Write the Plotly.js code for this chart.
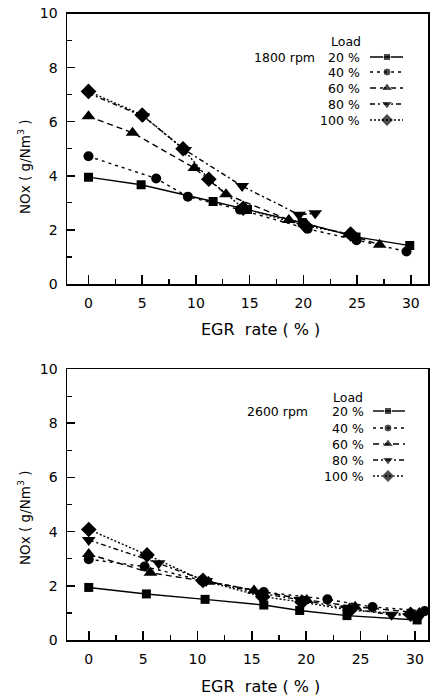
<!DOCTYPE html>
<html><head><meta charset="utf-8">
<script src="https://cdn.plot.ly/plotly-3.0.1.min.js"></script>
<style>html,body{margin:0;padding:0;background:#fff}#c{width:434px;height:698px}</style>
</head><body><div id="c"></div>
<script>
// ---- Data: 1800 rpm (top) ----
const loads = ["20 %", "40 %", "60 %", "80 %", "100 %"];
const top20x = [0, 4.9, 11.6, 14.8, 19.9, 24.9, 29.9];
const top20y = [3.95, 3.67, 3.05, 2.75, 2.27, 1.74, 1.42];
const top40x = [0, 6.3, 9.25, 14.1, 20.4, 24.95, 29.6];
const top40y = [4.72, 3.9, 3.23, 2.75, 2.04, 1.62, 1.2];
const top60x = [0, 4.1, 9.85, 12.8, 18.65, 24.2, 27.1];
const top60y = [6.2, 5.59, 4.29, 3.32, 2.37, 1.83, 1.45];
const top80x = [0, 5.1, 9.0, 14.3, 19.6, 21.1];
const top80y = [7.05, 6.2, 4.95, 3.62, 2.56, 2.62];
const top100x = [0, 5.0, 8.8, 11.2, 14.4, 20.2, 24.4];
const top100y = [7.12, 6.25, 5.0, 3.87, 2.8, 2.15, 1.85];
// ---- Data: 2600 rpm (bottom) ----
const bot20x = [0, 5.3, 10.7, 16.1, 19.4, 23.75, 30.2];
const bot20y = [1.94, 1.7, 1.5, 1.29, 1.09, 0.9, 0.74];
const bot40x = [0, 5.14, 10.4, 16.1, 21.95, 26.1, 30.9];
const bot40y = [2.98, 2.71, 2.2, 1.77, 1.5, 1.22, 1.07];
const bot60x = [0, 5.67, 11.0, 15.2, 20.05, 24.5, 30.4];
const bot60y = [3.17, 2.48, 2.15, 1.83, 1.48, 1.23, 1.0];
const bot80x = [0, 6.43, 10.8, 15.6, 19.45, 23.75, 27.85, 30.5];
const bot80y = [3.69, 2.83, 2.18, 1.74, 1.48, 1.17, 0.93, 0.9];
const bot100x = [0, 5.36, 10.5, 16.0, 19.6, 24.0, 29.6];
const bot100y = [4.08, 3.14, 2.2, 1.6, 1.4, 1.1, 0.95];

const symbols = ["square", "circle", "triangle-up", "triangle-down", "diamond"];
const msizes = [9, 10, 12, 12, 12];
const dashes = ["solid", "3px,4px", "6px,4px", "5px,3px,2px,3px", "2px,2px"];

const topX = [top20x, top40x, top60x, top80x, top100x];
const topY = [top20y, top40y, top60y, top80y, top100y];
const botX = [bot20x, bot40x, bot60x, bot80x, bot100x];
const botY = [bot20y, bot40y, bot60y, bot80y, bot100y];

const traces = [];
function addSeries(X, Y, xa, ya) {
  for (let i = 0; i < 5; i++) {
    traces.push({x: X[i], y: Y[i], xaxis: xa, yaxis: ya, type: "scatter", mode: "lines+markers",
      name: loads[i], showlegend: false,
      line: {color: "#000", width: 1.4, dash: dashes[i]},
      marker: {symbol: symbols[i], size: msizes[i], color: "#000"}});
  }
}
addSeries(topX, topY, "x", "y");
addSeries(botX, botY, "x2", "y2");

// custom legends (text left of sample) on a pixel overlay axis
const legTop = {rowY: [57, 72, 88, 104, 120], textR: 362, l0: 370, l1: 403, m: 387, loadY: 41, loadX: 346, rpm: "1800 rpm", rpmR: 317};
const legBot = {rowY: [411, 428, 444, 460, 476], textR: 366, l0: 373, l1: 405, m: 388, loadY: 397, loadX: 348, rpm: "2600 rpm", rpmR: 310};
const annotations = [];
const lf = 12.5;
function addLegend(L) {
  for (let i = 0; i < 5; i++) {
    traces.push({x: [L.l0, L.m, L.l1], y: [L.rowY[i], L.rowY[i], L.rowY[i]], xaxis: "x3", yaxis: "y3",
      type: "scatter", mode: "lines+markers", showlegend: false, hoverinfo: "skip",
      line: {color: "#000", width: 1.4, dash: dashes[i]},
      marker: {symbol: symbols[i], size: [0, msizes[i] - 2, 0], color: "#000"}});
    annotations.push({xref: "x3", yref: "y3", x: L.textR, y: L.rowY[i], text: loads[i], showarrow: false,
      xanchor: "right", yanchor: "middle", font: {size: lf}});
  }
  annotations.push({xref: "x3", yref: "y3", x: L.loadX, y: L.loadY, text: "Load", showarrow: false,
    xanchor: "center", yanchor: "middle", font: {size: lf}});
  annotations.push({xref: "x3", yref: "y3", x: L.rpmR, y: L.rowY[0], text: L.rpm, showarrow: false,
    xanchor: "right", yanchor: "middle", font: {size: lf}});
}
addLegend(legTop);
addLegend(legBot);

// axis titles
annotations.push({xref: "x3", yref: "y3", x: 260, y: 329, text: "EGR  rate ( % )", showarrow: false, font: {size: 16}});
annotations.push({xref: "x3", yref: "y3", x: 260, y: 686, text: "EGR  rate ( % )", showarrow: false, font: {size: 16}});
annotations.push({xref: "x3", yref: "y3", x: 24, y: 167, text: "NOx ( g/Nm<sup>3</sup> )", textangle: -90, showarrow: false, font: {size: 13.5}});
annotations.push({xref: "x3", yref: "y3", x: 24, y: 518, text: "NOx ( g/Nm<sup>3</sup> )", textangle: -90, showarrow: false, font: {size: 13.5}});

const W = 434, H = 698;
function xax(dom, range) {
  return {domain: dom, range: range, showgrid: false, zeroline: false, showline: true, mirror: true,
    linecolor: "#000", linewidth: 1.5, ticks: "inside", ticklen: 9, tickwidth: 1.5, tickcolor: "#000",
    tick0: 0, dtick: 5, tickfont: {size: 14, color: "#000"}, ticklabelstandoff: 6,
    minor: {ticks: "inside", ticklen: 5, dtick: 2.5, tick0: 0, tickwidth: 1.2, tickcolor: "#000"}};
}
function yax(dom) {
  return {domain: dom, range: [0, 10], showgrid: false, zeroline: false, showline: true, mirror: true,
    linecolor: "#000", linewidth: 1.5, ticks: "inside", ticklen: 8, tickwidth: 1.5, tickcolor: "#000",
    tick0: 0, dtick: 2, tickfont: {size: 14, color: "#000"}, ticklabelstandoff: 5,
    minor: {ticks: "inside", ticklen: 5, dtick: 1, tick0: 0, tickwidth: 1.2, tickcolor: "#000"}};
}
const xd = [67 / W, 428 / W];
const layout = {
  width: W, height: H, margin: {l: 0, r: 0, t: 0, b: 0},
  paper_bgcolor: "#fff", plot_bgcolor: "rgba(0,0,0,0)",
  font: {family: "DejaVu Sans, Arial, sans-serif", color: "#000"},
  showlegend: false,
  xaxis: Object.assign(xax(xd, [-2, 31.6]), {anchor: "y"}),
  yaxis: Object.assign(yax([1 - 284 / H, 1 - 13.5 / H]), {anchor: "x"}),
  xaxis2: Object.assign(xax(xd, [-2, 31.2]), {anchor: "y2"}),
  yaxis2: Object.assign(yax([1 - 640 / H, 1 - 369 / H]), {anchor: "x2"}),
  xaxis3: {domain: [0, 1], range: [0, W], visible: false, anchor: "y3", fixedrange: true},
  yaxis3: {domain: [0, 1], range: [H, 0], visible: false, anchor: "x3", fixedrange: true},
  annotations: annotations
};
Plotly.newPlot("c", traces, layout, {displayModeBar: false, staticPlot: true});
</script></body></html>
